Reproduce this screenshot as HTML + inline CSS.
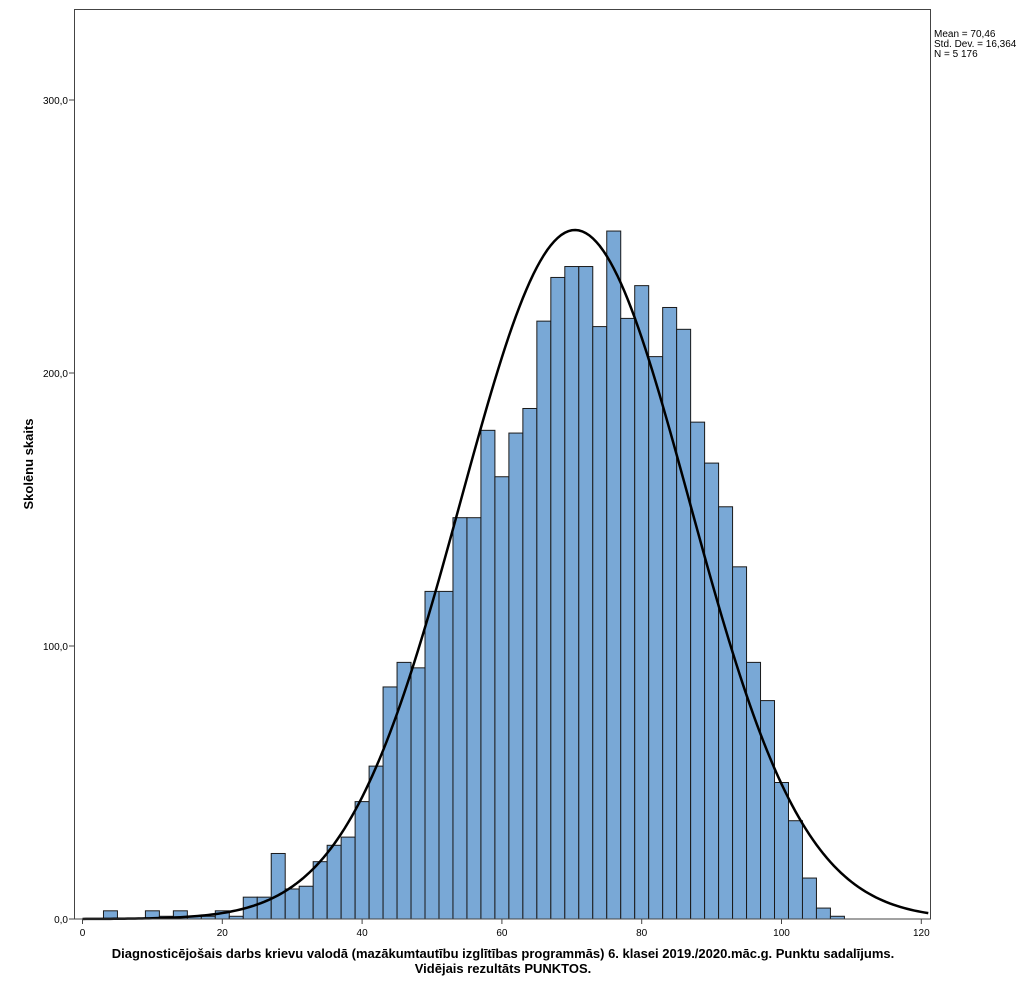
<!DOCTYPE html>
<html><head><meta charset="utf-8"><style>
body{margin:0;background:#fff;}
svg{display:block;font-family:"Liberation Sans",sans-serif;}
</style></head><body>
<svg id="chart" width="1024" height="992">
<rect x="0" y="0" width="1024" height="992" fill="#fff"/>
<g id="bars"></g>
<path id="curve" fill="none" stroke="#000" stroke-width="2.5"/>
<rect x="74.5" y="9.5" width="856" height="909.5" fill="none" stroke="#444" stroke-width="1"/>
<g id="axes"></g>
<text x="934" y="37" font-size="10" fill="#000">Mean = 70,46</text>
<text x="934" y="47" font-size="10" fill="#000">Std. Dev. = 16,364</text>
<text x="934" y="57" font-size="10" fill="#000">N = 5 176</text>
<text transform="translate(33,464) rotate(-90)" text-anchor="middle" font-size="13" font-weight="bold">Skolēnu skaits</text>
<text x="503" y="958" text-anchor="middle" font-size="13" font-weight="bold">Diagnosticējošais darbs krievu valodā (mazākumtautību izglītības programmās) 6. klasei 2019./2020.māc.g. Punktu sadalījums.</text>
<text x="503" y="973" text-anchor="middle" font-size="13" font-weight="bold">Vidējais rezultāts PUNKTOS.</text>
</svg>
<script>
const binStarts=[3,5,7,9,11,13,15,17,19,21,23,25,27,29,31,33,35,37,39,41,43,45,47,49,51,53,55,57,59,61,63,65,67,69,71,73,75,77,79,81,83,85,87,89,91,93,95,97,99,101,103,105,107];
const counts=[3,0,0,3,1,3,1,1,3,1,8,8,24,11,12,21,27,30,43,56,85,94,92,120,120,147,147,179,162,178,187,219,235,239,239,217,252,220,232,206,224,216,182,167,151,129,94,80,50,36,15,4,1];
const binWidth=2;
const mean=70.46, sd=16.364, n=5176;
const xTicks=[0,20,40,60,80,100,120];
const yTicks=[0,100,200,300];
const yTickLabels=["0,0","100,0","200,0","300,0"];
const NS="http://www.w3.org/2000/svg";
function xs(v){return 82.5+v*6.99;}
function ys(v){return 919-v*2.73;}
const bars=document.getElementById('bars');
binStarts.forEach((b,i)=>{
  if(counts[i]<=0)return;
  const r=document.createElementNS(NS,'rect');
  
  
  r.setAttribute('x',xs(b));r.setAttribute('width',xs(b+binWidth)-xs(b));
  r.setAttribute('y',ys(counts[i]));r.setAttribute('height',ys(0)-ys(counts[i]));
  r.setAttribute('fill','#79a8d6');r.setAttribute('stroke','#1a1a1a');r.setAttribute('stroke-width','1');
  bars.appendChild(r);
});
let d='';
for(let v=0;v<=121;v+=0.5){
  const y=n*binWidth/(sd*Math.sqrt(2*Math.PI))*Math.exp(-0.5*((v-mean)/sd)**2);
  d+=(d?'L':'M')+xs(v).toFixed(2)+','+ys(y).toFixed(2);
}
document.getElementById('curve').setAttribute('d',d);
const ax=document.getElementById('axes');
xTicks.forEach(t=>{
  const l=document.createElementNS(NS,'line');
  
  
  l.setAttribute('x1',xs(t));l.setAttribute('x2',xs(t));l.setAttribute('y1',919);l.setAttribute('y2',924);l.setAttribute('stroke','#444');
  ax.appendChild(l);
  const tx=document.createElementNS(NS,'text');
  
  
  tx.setAttribute('x',xs(t));tx.setAttribute('y',936);tx.setAttribute('text-anchor','middle');tx.setAttribute('font-size','10');
  tx.textContent=t;ax.appendChild(tx);
});
yTicks.forEach((t,i)=>{
  const l=document.createElementNS(NS,'line');
  
  
  l.setAttribute('x1',69);l.setAttribute('x2',74.5);l.setAttribute('y1',ys(t));l.setAttribute('y2',ys(t));l.setAttribute('stroke','#444');
  ax.appendChild(l);
  const tx=document.createElementNS(NS,'text');
  
  
  tx.setAttribute('x',68);tx.setAttribute('y',ys(t)+4);tx.setAttribute('text-anchor','end');tx.setAttribute('font-size','10');
  tx.textContent=yTickLabels[i];ax.appendChild(tx);
});
</script>
</body></html>
